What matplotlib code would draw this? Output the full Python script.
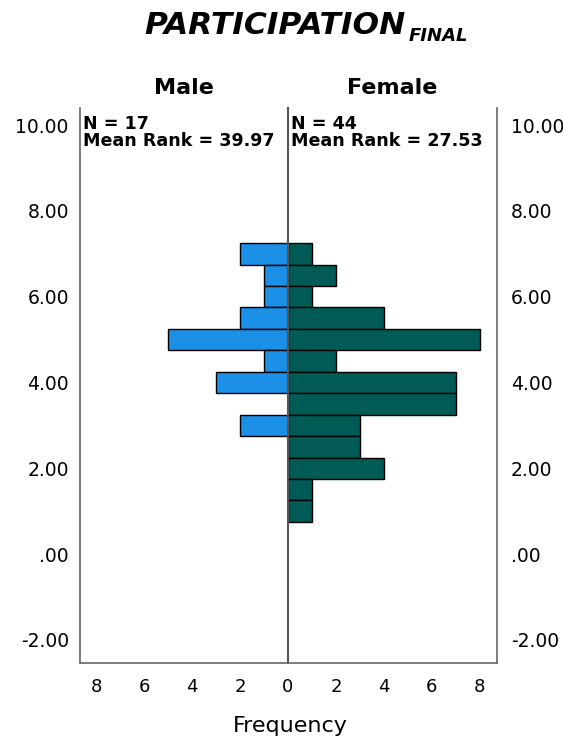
import numpy as np
import matplotlib.pyplot as plt

# bin centres (width 0.5) and counts
bins = [7.0, 6.5, 6.0, 5.5, 5.0, 4.5, 4.0, 3.5, 3.0, 2.5, 2.0, 1.5, 1.0]
male = [2, 1, 1, 2, 5, 1, 3, 0, 2, 0, 0, 0, 0]
female = [1, 2, 1, 4, 8, 2, 7, 7, 3, 3, 4, 1, 1]
yticks = [-2, 0, 2, 4, 6, 8, 10]
ytick_labels = ['-2.00', '.00', '2.00', '4.00', '6.00', '8.00', '10.00']
xticks_left = [2, 4, 6, 8]
xticks_right = [0, 2, 4, 6, 8]

fig = plt.figure(figsize=(5.63, 7.42), dpi=100)
axl = fig.add_axes([0.142, 0.1065, 0.3695, 0.748])
axr = fig.add_axes([0.5115, 0.1065, 0.371, 0.748])

blue = '#1c8fe6'
teal = '#005a55'
grey = '#666666'

b = np.array(bins)
axl.barh(b, male, height=0.5, color=blue, edgecolor='black', linewidth=1)
axr.barh(b, female, height=0.5, color=teal, edgecolor='black', linewidth=1)

for ax in (axl, axr):
    ax.set_ylim(-2.54, 10.40)
    ax.set_yticks(yticks)
    ax.tick_params(length=0, pad=8)
    ax.tick_params(axis='x', pad=11)
    ax.spines['top'].set_visible(False)
    for s in ax.spines.values():
        s.set_color(grey)
        s.set_linewidth(1.2)

axl.set_xticks(xticks_left)
axl.set_xticklabels([str(t) for t in xticks_left], fontsize=13)
axr.set_xticks(xticks_right)
axr.set_xticklabels([str(t) for t in xticks_right], fontsize=13)

axl.set_xlim(8.67, 0)
axr.set_xlim(0, 8.71)
axl.set_yticklabels(ytick_labels, fontsize=13.5)
axr.yaxis.tick_right()
axr.tick_params(axis='y', pad=10)
axr.set_yticklabels(ytick_labels, fontsize=13.5)
axl.spines['right'].set_visible(False)
axr.spines['left'].set_linewidth(1.5)
axr.spines['left'].set_color('#555555')

axl.text(0.015, 0.987, 'N = 17\nMean Rank = 39.97', transform=axl.transAxes,
         fontsize=12.6, fontweight='bold', va='top', ha='left', linespacing=0.92)
axr.text(0.015, 0.987, 'N = 44\nMean Rank = 27.53', transform=axr.transAxes,
         fontsize=12.6, fontweight='bold', va='top', ha='left', linespacing=0.92)

fig.text(0.326, 0.882, 'Male', fontsize=16, fontweight='bold', ha='center', va='center')
fig.text(0.697, 0.882, 'Female', fontsize=16, fontweight='bold', ha='center', va='center')

fig.text(0.72, 0.966, 'PARTICIPATION', fontsize=22.5, fontweight='bold', style='italic',
         ha='right', va='center')
fig.text(0.726, 0.951, 'FINAL', fontsize=13, fontweight='bold', style='italic',
         ha='left', va='center')
fig.text(0.515, 0.021, 'Frequency', fontsize=16, ha='center', va='center')

fig.savefig('out.png')
